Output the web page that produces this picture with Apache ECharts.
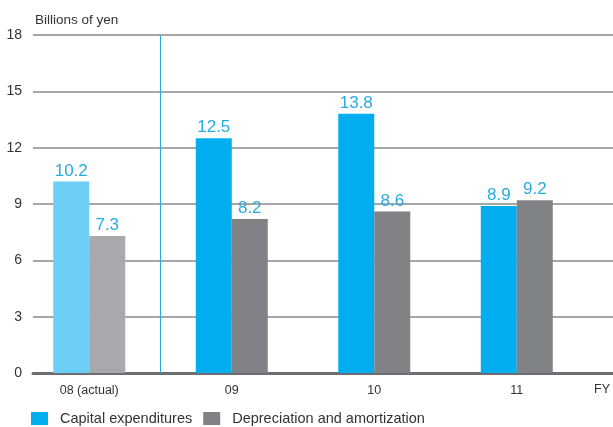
<!DOCTYPE html>
<html><head><meta charset="utf-8">
<script src="https://cdn.jsdelivr.net/npm/echarts@6/dist/echarts.min.js"></script>
<style>html,body{margin:0;padding:0;background:#fff}#c{width:613px;height:427px}</style>
</head><body><div id="c"></div>
<script>
const categories = ['08 (actual)', '09', '10', '11'];
const capex = [10.2, 12.5, 13.8, 8.9];
const depreciation = [7.3, 8.2, 8.6, 9.2];
const yTicks = [0, 3, 6, 9, 12, 15, 18];
const seriesNames = ['Capital expenditures', 'Depreciation and amortization'];
const actualCount = 1; // number of actual-result categories before the divider

const FONT = '"Liberation Sans", Arial, sans-serif';
const capexColors = ['#6dcff6', '#00aeef', '#00aeef', '#00aeef'];
const depColors = ['#a7a9ac', '#808285', '#808285', '#808285'];

const chart = echarts.init(document.getElementById('c'));
const labelCfg = {show: true, position: 'top', distance: 2, color: '#29abe2', fontSize: 17, fontFamily: FONT};
chart.setOption({
  animation: false,
  textStyle: {fontFamily: FONT},
  title: {text: 'Billions of yen', left: 30, top: 8, textStyle: {fontSize: 13.5, fontWeight: 'normal', color: '#333', fontFamily: FONT}},
  grid: [
    {left: 18, right: 21, top: 35, bottom: 54},
    {left: 33, right: 0, top: 35, bottom: 54}
  ],
  legend: {
    bottom: -4, left: 26, itemWidth: 17, itemHeight: 13, itemGap: 11,
    icon: 'rect',
    textStyle: {fontSize: 14.5, color: '#333', fontFamily: FONT, padding: [0, 0, 0, 7]},
    data: [{name: seriesNames[0], itemStyle: {color: '#00aeef'}}, {name: seriesNames[1], itemStyle: {color: '#808285'}}]
  },
  xAxis: [
    {type: 'category', gridIndex: 0, data: categories,
     axisLine: {show: false}, axisTick: {show: false},
     axisLabel: {color: '#333', fontSize: 12.5, margin: 11, fontFamily: FONT},
     splitLine: {show: false},
     name: 'FY', nameLocation: 'end', nameGap: 6,
     nameTextStyle: {color: '#333', fontSize: 12.5, fontFamily: FONT, verticalAlign: 'top', padding: [10, 0, 0, 0]}},
    {type: 'category', gridIndex: 1, data: categories, show: true,
     axisLine: {show: true, lineStyle: {color: '#6d6e71', width: 3}},
     axisTick: {show: false}, axisLabel: {show: false}, splitLine: {show: false}},
    {type: 'value', gridIndex: 0, min: 0, max: categories.length, show: false, splitLine: {show: false}}
  ],
  yAxis: [
    {type: 'value', gridIndex: 0, min: 0, max: 18, interval: 3, show: false, splitLine: {show: false}},
    {type: 'value', gridIndex: 1, min: 0, max: 18, interval: 3,
     axisLine: {show: false}, axisTick: {show: false},
     axisLabel: {color: '#333', fontSize: 14, margin: 11, fontFamily: FONT, formatter: (v) => yTicks.includes(v) ? String(v) : ''},
     splitLine: {show: true, lineStyle: {color: '#8a8a8a', width: 1.5}}}
  ],
  series: [
    {name: seriesNames[0], type: 'bar', xAxisIndex: 0, yAxisIndex: 0, barWidth: 36, barGap: '0%',
     data: capex.map((v, i) => ({value: v, itemStyle: {color: capexColors[i]}})),
     itemStyle: {color: '#00aeef'}, label: labelCfg, z: 3},
    {name: seriesNames[1], type: 'bar', xAxisIndex: 0, yAxisIndex: 0, barWidth: 36, barGap: '0%',
     data: depreciation.map((v, i) => ({value: v, itemStyle: {color: depColors[i]}})),
     itemStyle: {color: '#808285'}, label: labelCfg, z: 3},
    {name: 'divider', type: 'scatter', xAxisIndex: 2, yAxisIndex: 0, symbolSize: 0, silent: true,
     data: [[actualCount, 0]],
     markLine: {silent: true, symbol: 'none', label: {show: false}, animation: false,
       lineStyle: {color: '#29abe2', width: 1, type: 'solid'},
       data: [{xAxis: actualCount}]}, z: 2}
  ]
});
</script></body></html>
